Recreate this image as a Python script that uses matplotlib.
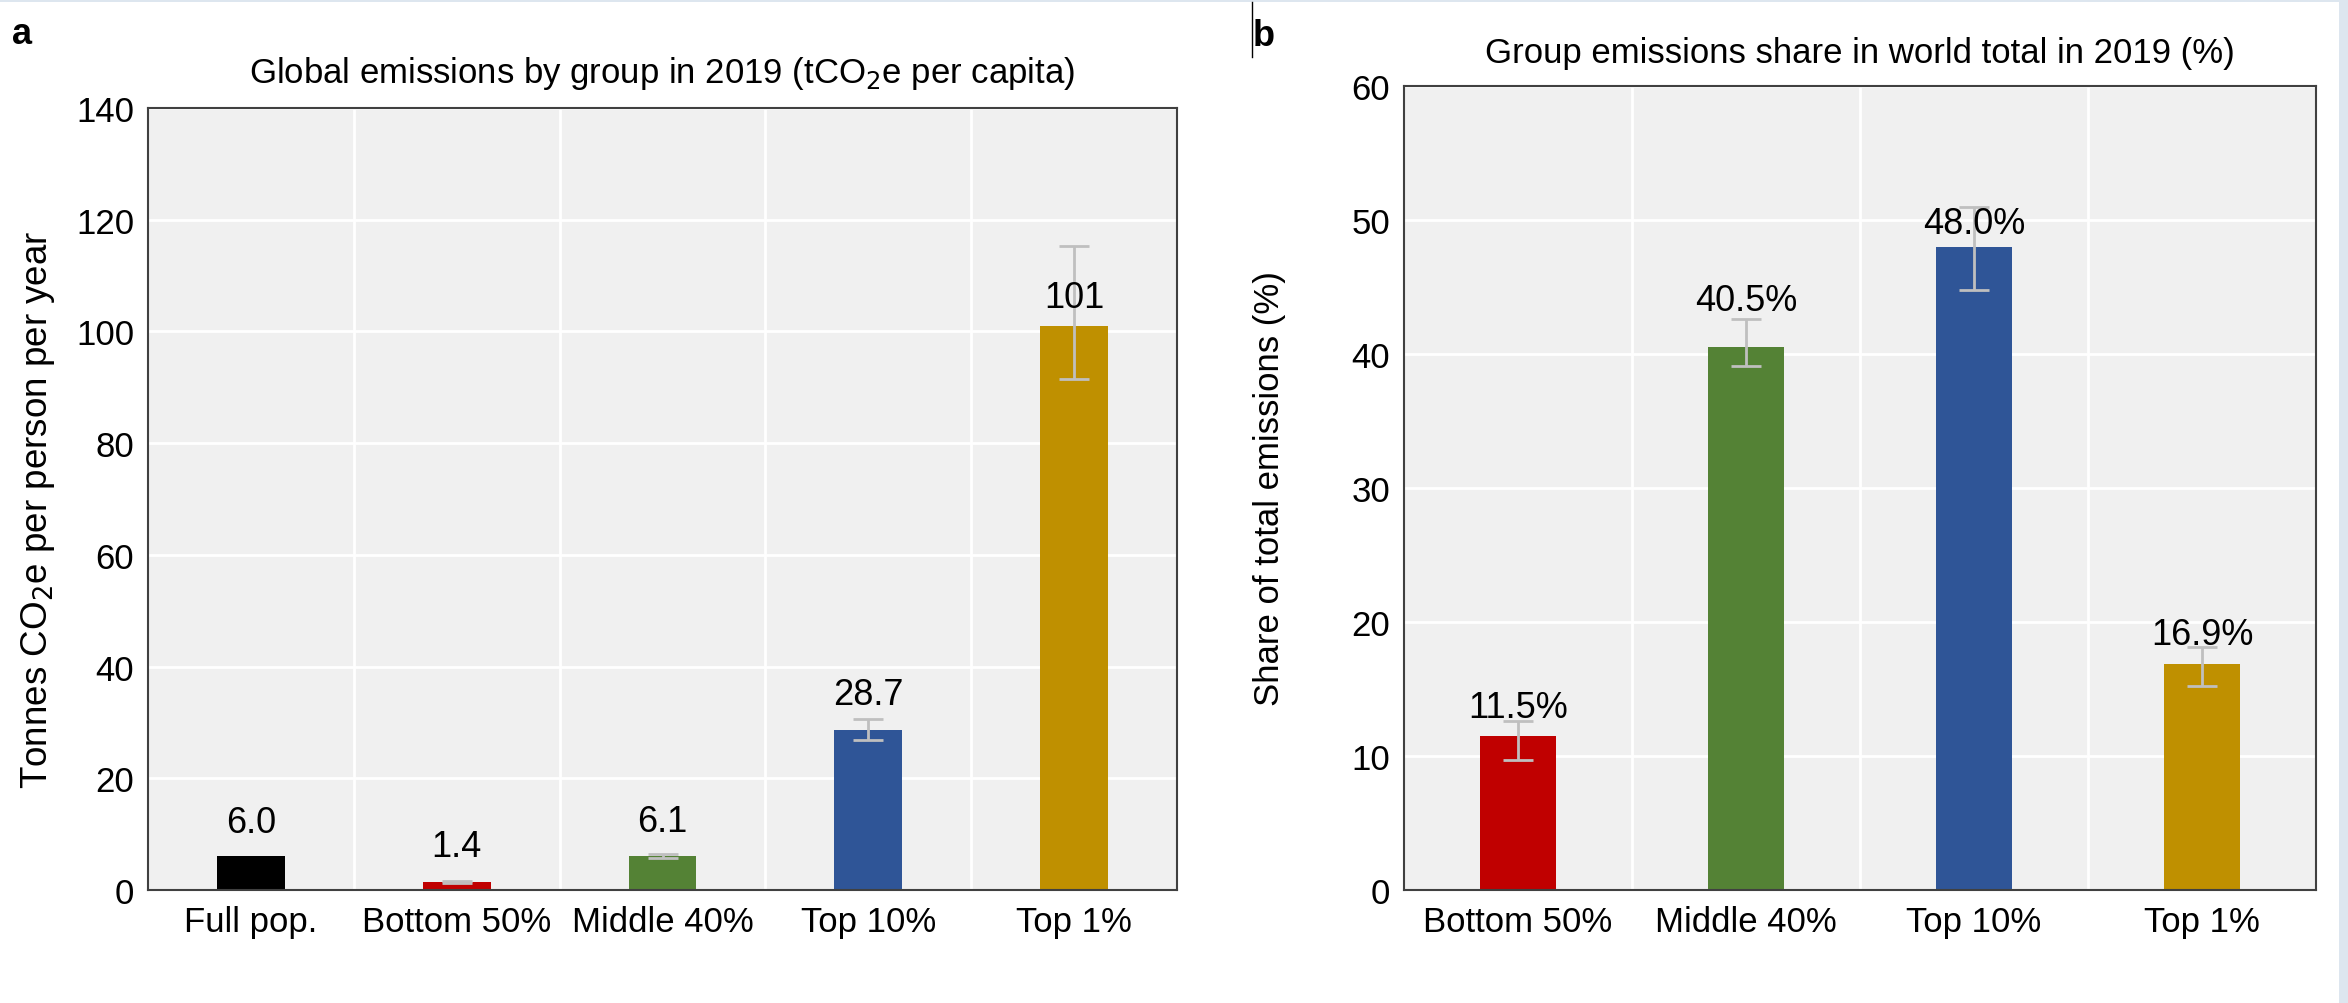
import matplotlib
matplotlib.use("Agg")
import matplotlib.pyplot as plt
from matplotlib.patches import Rectangle
from matplotlib.lines import Line2D
import numpy as np

# panel a: per capita emissions
groups_a = ["Full pop.", "Bottom 50%", "Middle 40%", "Top 10%", "Top 1%"]
values_a = [6.0, 1.4, 6.1, 28.7, 101]
labels_a = ["6.0", "1.4", "6.1", "28.7", "101"]
err_low_a = [6.0, 1.2, 5.8, 26.9, 91.5]
err_high_a = [6.0, 1.7, 6.4, 30.6, 115.3]

# panel b: share of world total
groups_b = ["Bottom 50%", "Middle 40%", "Top 10%", "Top 1%"]
values_b = [11.5, 40.5, 48.0, 16.9]
labels_b = ["11.5%", "40.5%", "48.0%", "16.9%"]
err_low_b = [9.7, 39.1, 44.8, 15.2]
err_high_b = [12.6, 42.6, 51.0, 18.1]

colors_a = ["#000000", "#c00000", "#548235", "#2f5597", "#bf9000"]
colors_b = colors_a[1:]
label_off_a = [12, 13, 12, 13, 8]
label_off_b = [8, 21, 4, 8]

plt.rcParams['font.family'] = ['Liberation Sans', 'DejaVu Sans']

fig = plt.figure(figsize=(23.48, 10.04), dpi=100, facecolor="#dde6ef")
fig.patches.append(Rectangle((0, 0), 2339 / 2348, 1 - 3 / 1004,
                             transform=fig.transFigure, facecolor="white",
                             edgecolor="none", zorder=-10))

ax_a = fig.add_axes([148 / 2348, 1 - 891 / 1004, 1029 / 2348, 782 / 1004])
ax_b = fig.add_axes([1404 / 2348, 1 - 891 / 1004, 912 / 2348, 804 / 1004])


def draw_panel(ax, groups, values, labels, lo, hi, colors, offs, ymax, step):
    x = np.arange(len(groups))
    vals = np.array(values, dtype=float)
    lo = np.array(lo, dtype=float)
    hi = np.array(hi, dtype=float)
    ax.set_facecolor("#f0f0f0")
    ax.bar(x, vals, width=0.33, color=colors, zorder=3)
    has_err = hi > lo
    yerr = [vals[has_err] - lo[has_err], hi[has_err] - vals[has_err]]
    ax.errorbar(x[has_err], vals[has_err], yerr=yerr, fmt="none",
                ecolor="#bfbfbf", elinewidth=2, capsize=11, capthick=2,
                zorder=4)
    for xi, v, lab, off in zip(x, vals, labels, offs):
        ax.annotate(lab, (xi, v), xytext=(0, off), textcoords="offset points",
                    ha="center", va="bottom", fontsize=26, zorder=5)
    ax.set_xlim(-0.5, len(groups) - 0.5)
    ax.set_ylim(0, ymax)
    ax.set_yticks(np.arange(0, ymax + 1, step))
    ax.set_xticks(x)
    ax.set_xticklabels(groups)
    ax.set_xticks(np.arange(0.5, len(groups) - 0.5, 1), minor=True)
    ax.grid(True, which="minor", axis="x", color="white", lw=2, zorder=1)
    ax.grid(True, which="major", axis="y", color="white", lw=2, zorder=1)
    ax.tick_params(which="both", length=0, labelsize=25)
    ax.tick_params(axis="x", pad=11)
    ax.tick_params(axis="y", pad=10)
    for s in ax.spines.values():
        s.set_color("#404040")
        s.set_linewidth(1.5)
        s.set_zorder(6)


draw_panel(ax_a, groups_a, values_a, labels_a, err_low_a, err_high_a,
           colors_a, label_off_a, 140, 20)
draw_panel(ax_b, groups_b, values_b, labels_b, err_low_b, err_high_b,
           colors_b, label_off_b, 60, 10)

ax_a.set_title("Global emissions by group in 2019 (tCO$_2$e per capita)",
               fontsize=25, pad=19)
ax_b.set_title("Group emissions share in world total in 2019 (%)",
               fontsize=25, pad=17)
ax_a.set_ylabel("Tonnes CO$_2$e per person per year", fontsize=26.5)
ax_a.yaxis.set_label_coords(-0.088, 0.488)
ax_b.set_ylabel("Share of total emissions (%)", fontsize=25)
ax_b.yaxis.set_label_coords(-0.129, 0.5)

fig.text(22 / 2348, 1 - 34 / 1004, "a", fontsize=26, fontweight="bold",
         ha="center", va="center")
fig.text(1264 / 2348, 1 - 36 / 1004, "b", fontsize=26, fontweight="bold",
         ha="center", va="center")
fig.add_artist(Line2D([1252 / 2348, 1252 / 2348], [1 - 3 / 1004, 1 - 58 / 1004],
                      transform=fig.transFigure, color="black", lw=1))

fig.savefig("out.png", dpi=100, facecolor=fig.get_facecolor())
